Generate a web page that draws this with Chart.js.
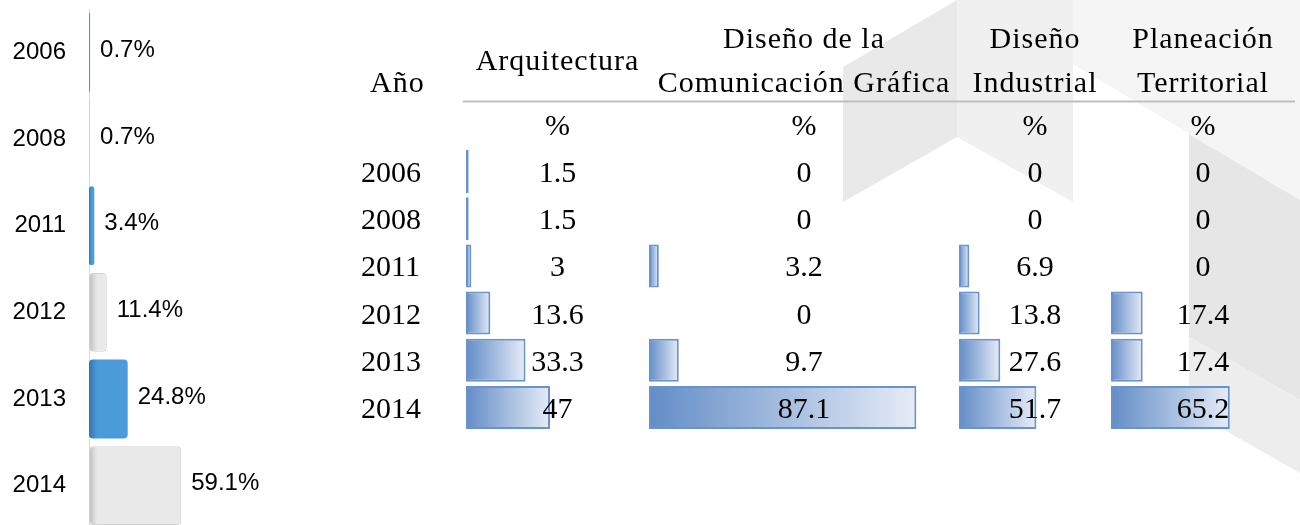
<!DOCTYPE html>
<html lang="es">
<head>
<meta charset="utf-8">
<title>Egresados por año y licenciatura</title>
<script src="https://cdn.jsdelivr.net/npm/chart.js@4.4.1/dist/chart.umd.min.js"></script>
<style>
  html, body { margin: 0; padding: 0; background: #fff; }
  #page { position: relative; width: 1300px; height: 525px; overflow: hidden; background: #fff; }
  #page svg, #page canvas { position: absolute; top: 0; }
  #yearChart { left: 0; }
  #tableChart { left: 340px; }
</style>
</head>
<body>
<div id="page">
  <!-- faint watermark behind the table -->
  <svg width="1300" height="525">
    <polygon points="843,67 957,0 957,137 843,202" fill="#e9e9e9"/>
    <polygon points="957,0 1073,0 1073,202 957,137" fill="#f0f0f0"/>
    <polygon points="1073,0 1300,0 1300,200 1073,64" fill="#f5f5f5"/>
    <polygon points="1189,134 1300,200 1300,400 1189,337" fill="#e6e6e6"/>
    <polygon points="1189,337 1300,400 1300,473 1189,410" fill="#ededed"/>
  </svg>
  <canvas id="yearChart" width="300" height="540"></canvas>
  <canvas id="tableChart" width="960" height="525"></canvas>
</div>
<script>
// Years shared by both parts
const years = ['2006', '2008', '2011', '2012', '2013', '2014'];

// Left chart: share of each year (%)
const yearShare = [0.7, 0.7, 3.4, 11.4, 24.8, 59.1];

// Right table: % per program and year
const programHeaders = [
    ['Arquitectura'],
    ['Diseño de la', 'Comunicación Gráfica'],
    ['Diseño', 'Industrial'],
    ['Planeación', 'Territorial']
];
const arquitectura = [1.5, 1.5, 3, 13.6, 33.3, 47];
const comunicacionGrafica = [0, 0, 3.2, 0, 9.7, 87.1];
const disenoIndustrial = [0, 0, 6.9, 13.8, 27.6, 51.7];
const planeacionTerritorial = [0, 0, 0, 17.4, 17.4, 65.2];

const sansFont = '"Liberation Sans", Arial, sans-serif';
const serifFont = '"Liberation Serif", "Times New Roman", serif';

// Left chart colours, alternating blue / grey
const blue = '#4a9bd8';
const blueDark = '#3274ab';
const grey = '#e9e9e9';
const greyDark = '#bdbdbd';
const isBlue = i => i % 2 === 0;

// darker left edge, like the 3D bars of the original
function shadedFill(ctx) {
    const light = isBlue(ctx.dataIndex) ? blue : grey;
    const dark = isBlue(ctx.dataIndex) ? blueDark : greyDark;
    if (ctx.type !== 'data' || !ctx.chart.chartArea) return light;
    const xScale = ctx.chart.scales.x;
    const x0 = xScale.getPixelForValue(0);
    const x1 = xScale.getPixelForValue(ctx.raw);
    if (x1 - x0 < 4) return light;
    const g = ctx.chart.ctx.createLinearGradient(x0, 0, x1, 0);
    g.addColorStop(0, dark);
    g.addColorStop(Math.min(0.45, 8 / (x1 - x0)), light);
    g.addColorStop(1, light);
    return g;
}

// Value labels at the end of each bar
const shareLabels = {
    id: 'shareLabels',
    afterDatasetsDraw(chart) {
        const {ctx} = chart;
        const meta = chart.getDatasetMeta(0);
        ctx.save();
        ctx.font = '24px ' + sansFont;
        ctx.fillStyle = '#000';
        ctx.textAlign = 'left';
        ctx.textBaseline = 'middle';
        meta.data.forEach((bar, i) => {
            ctx.fillText(yearShare[i].toFixed(1) + '%', bar.x + 10, bar.y - 2);
        });
        ctx.restore();
    }
};

new Chart(document.getElementById('yearChart'), {
    type: 'bar',
    data: {
        labels: years,
        datasets: [{
            data: yearShare,
            backgroundColor: shadedFill,
            borderColor: ctx => isBlue(ctx.dataIndex) ? blue : '#d2d2d2',
            borderWidth: ctx => isBlue(ctx.dataIndex) ? 0 : 1,
            borderRadius: 4,
            borderSkipped: false,
            barPercentage: 0.91,
            categoryPercentage: 1
        }]
    },
    options: {
        indexAxis: 'y',
        responsive: false,
        animation: false,
        devicePixelRatio: 1,
        layout: {padding: {left: 12, right: 55, top: 9, bottom: 11}},
        plugins: {legend: {display: false}, tooltip: {enabled: false}},
        scales: {
            x: {display: false, min: 0, max: 100},
            y: {
                grid: {display: false, drawTicks: false},
                border: {color: '#d9d9d9', width: 1},
                ticks: {color: '#000', padding: 23, font: {family: sansFont, size: 24}},
                afterFit: scale => {
                    scale.width = 77;
                    scale.paddingTop = 0;
                    scale.paddingBottom = 0;
                }
            }
        }
    },
    plugins: [shareLabels]
});

// Data bars of the table: blue to white gradient
function dataBarFill(ctx) {
    const base = '#6a93cb';
    if (ctx.type !== 'data' || !ctx.chart.chartArea) return base;
    const sc = ctx.chart.scales[ctx.dataset.xAxisID];
    const x0 = sc.getPixelForValue(0);
    const x1 = sc.getPixelForValue(ctx.raw);
    if (x1 - x0 < 1) return base;
    const g = ctx.chart.ctx.createLinearGradient(x0, 0, x1, 0);
    g.addColorStop(0, '#638dc7');
    g.addColorStop(1, '#e6ecf7');
    return g;
}

// Header, year column and numbers of the table
const tableText = {
    id: 'tableText',
    afterDatasetsDraw(chart) {
        const {ctx, scales} = chart;
        const cols = ['x1', 'x2', 'x3', 'x4'].map(id => scales[id]);
        const centers = cols.map(s => (s.left + s.right) / 2);
        ctx.save();
        ctx.fillStyle = '#000';
        ctx.font = '30px ' + serifFont;
        ctx.textBaseline = 'alphabetic';

        ctx.letterSpacing = '1px';
        ctx.textAlign = 'left';
        ctx.fillText('Año', 30, 92);
        ctx.textAlign = 'center';
        programHeaders.forEach((lines, c) => {
            const rows = lines.length === 1 ? [70] : [48, 92];
            lines.forEach((t, k) => ctx.fillText(t, centers[c], rows[k]));
        });
        ctx.letterSpacing = '0px';

        ctx.strokeStyle = '#c0c0c0';
        ctx.lineWidth = 2;
        ctx.beginPath();
        ctx.moveTo(cols[0].left - 3, 101.5);
        ctx.lineTo(cols[3].right, 101.5);
        ctx.stroke();

        centers.forEach(cx => ctx.fillText('%', cx, 135));

        years.forEach((yr, i) => {
            const y = scales.y.getPixelForValue(i) + 10.5;
            ctx.textAlign = 'left';
            ctx.fillText(yr, 21, y);
            ctx.textAlign = 'center';
            chart.data.datasets.forEach((ds, c) => {
                ctx.fillText(String(ds.data[i]), centers[c], y);
            });
        });
        ctx.restore();
    }
};

const tableBar = {
    backgroundColor: dataBarFill,
    borderColor: '#6a93cb',
    borderWidth: ctx => ctx.raw ? 2 : 0,
    borderSkipped: false,
    grouped: false,
    barPercentage: 0.91,
    categoryPercentage: 1
};

new Chart(document.getElementById('tableChart'), {
    type: 'bar',
    data: {
        labels: years,
        datasets: [
            {...tableBar, data: arquitectura, xAxisID: 'x1'},
            {...tableBar, data: comunicacionGrafica, xAxisID: 'x2'},
            {...tableBar, data: disenoIndustrial, xAxisID: 'x3'},
            {...tableBar, data: planeacionTerritorial, xAxisID: 'x4'}
        ]
    },
    options: {
        indexAxis: 'y',
        responsive: false,
        animation: false,
        devicePixelRatio: 1,
        layout: {padding: {left: 126, right: 5, top: 148, bottom: 94}},
        plugins: {legend: {display: false}, tooltip: {enabled: false}},
        scales: {
            y: {display: false},
            x1: {display: false, position: 'bottom', min: 0, max: 102.4, stack: 'cols', stackWeight: 183},
            x2: {display: false, position: 'bottom', min: 0, max: 101, stack: 'cols', stackWeight: 310},
            x3: {display: false, position: 'bottom', min: 0, max: 101.6, stack: 'cols', stackWeight: 152},
            x4: {display: false, position: 'bottom', min: 0, max: 101, stack: 'cols', stackWeight: 184}
        }
    },
    plugins: [tableText]
});
</script>
</body>
</html>
